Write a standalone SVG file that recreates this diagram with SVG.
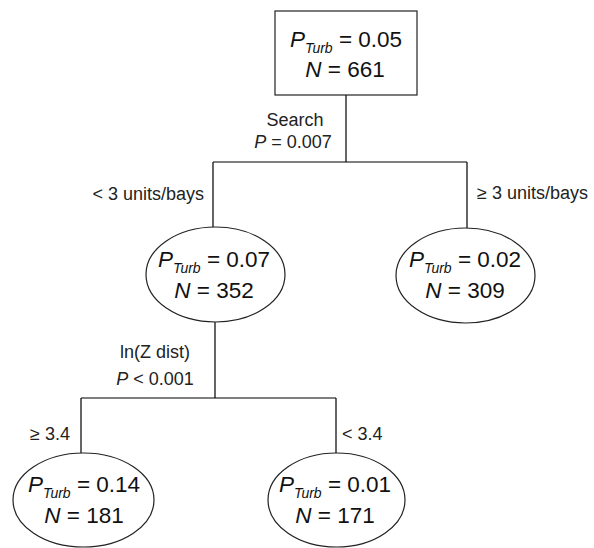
<svg xmlns="http://www.w3.org/2000/svg" width="594" height="548" viewBox="0 0 594 548">
<style>
.edge{stroke:#000;stroke-width:1.2;fill:none}
.node{stroke:#222;stroke-width:1.2;fill:#fff}
.nt{font-family:"Liberation Sans",Arial,sans-serif;font-size:22.5px;fill:#111;text-anchor:middle}
.sub{font-size:14px;font-style:italic}
.it{font-style:italic}
.lb{font-family:"Liberation Sans",Arial,sans-serif;font-size:18px;fill:#222}
</style>
<rect width="594" height="548" fill="#fff"/>
<g id="connectors">
<path class="edge" d="M346 95 V162 M213 162 H467 M213 162 V228 M467 162 V228"/>
<path class="edge" d="M215 322 V398 M81 398 H336 M81 398 V453 M336 398 V453"/>
<text class="lb" x="295" y="126" text-anchor="middle">Search</text>
<text class="lb" x="293" y="148" text-anchor="middle"><tspan class="it">P</tspan> = 0.007</text>
<text class="lb" x="204" y="200" text-anchor="end">&lt; 3 units/bays</text>
<text class="lb" x="477" y="199">≥ 3 units/bays</text>
<text class="lb" x="155" y="358" text-anchor="middle">ln(Z dist)</text>
<text class="lb" x="155" y="385" text-anchor="middle"><tspan class="it">P</tspan> &lt; 0.001</text>
<text class="lb" x="30" y="440">≥ 3.4</text>
<text class="lb" x="342" y="440">&lt; 3.4</text>
</g>
<g id="n0">
<rect class="node" x="275" y="11" width="142" height="84"/>
<text class="nt" x="346" y="47"><tspan class="it">P</tspan><tspan class="sub" dy="6">Turb</tspan><tspan dy="-6"> = 0.05</tspan></text>
<text class="nt" x="345" y="77"><tspan class="it">N</tspan> = 661</text>
</g>
<g id="n1">
<ellipse class="node" cx="215.5" cy="274.5" rx="69.5" ry="47.5"/>
<text class="nt" x="214" y="267"><tspan class="it">P</tspan><tspan class="sub" dy="6">Turb</tspan><tspan dy="-6"> = 0.07</tspan></text>
<text class="nt" x="214" y="298"><tspan class="it">N</tspan> = 352</text>
</g>
<g id="n2">
<ellipse class="node" cx="465.5" cy="275.5" rx="69.5" ry="47.5"/>
<text class="nt" x="465" y="267"><tspan class="it">P</tspan><tspan class="sub" dy="6">Turb</tspan><tspan dy="-6"> = 0.02</tspan></text>
<text class="nt" x="465" y="298"><tspan class="it">N</tspan> = 309</text>
</g>
<g id="n3">
<ellipse class="node" cx="83.5" cy="500" rx="70.5" ry="47"/>
<text class="nt" x="84" y="492"><tspan class="it">P</tspan><tspan class="sub" dy="6">Turb</tspan><tspan dy="-6"> = 0.14</tspan></text>
<text class="nt" x="84" y="523"><tspan class="it">N</tspan> = 181</text>
</g>
<g id="n4">
<ellipse class="node" cx="336.5" cy="500" rx="68.5" ry="47"/>
<text class="nt" x="335" y="492"><tspan class="it">P</tspan><tspan class="sub" dy="6">Turb</tspan><tspan dy="-6"> = 0.01</tspan></text>
<text class="nt" x="335" y="523"><tspan class="it">N</tspan> = 171</text>
</g>
</svg>
